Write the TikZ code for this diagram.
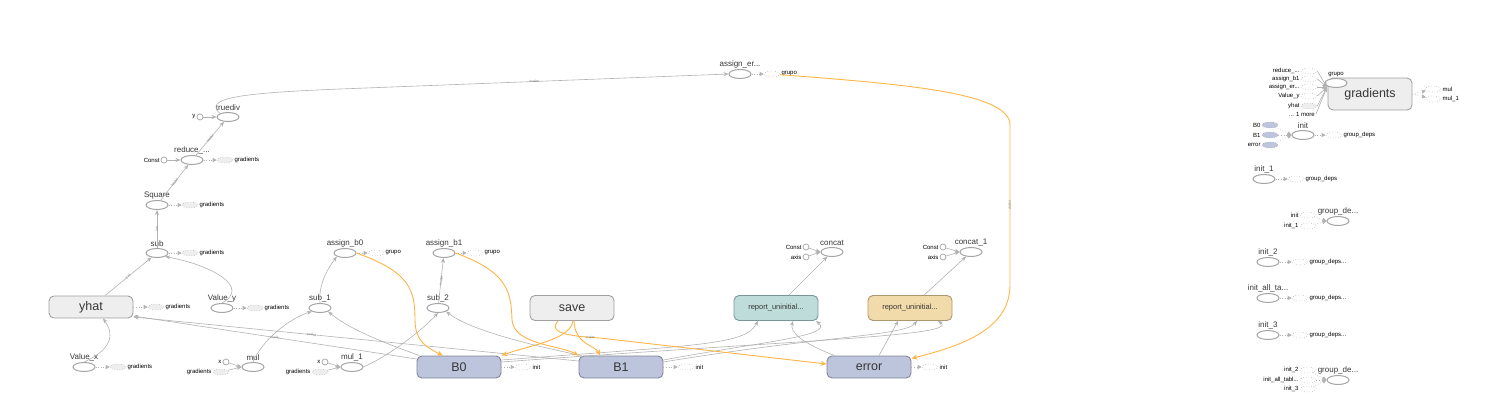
\documentclass[tikz,border=0pt]{standalone}
\usepackage{fontspec}
\setmainfont{Liberation Sans}
\usetikzlibrary{shapes, arrows.meta, positioning, calc}
\definecolor{edgegray}{RGB}{178,178,178}
\definecolor{opline}{RGB}{165,165,165}
\definecolor{metafill}{RGB}{238,238,238}
\definecolor{metaline}{RGB}{160,160,160}
\definecolor{varfill}{RGB}{189,197,221}
\definecolor{varline}{RGB}{128,134,152}
\definecolor{tealfill}{RGB}{190,221,218}
\definecolor{tealline}{RGB}{120,152,150}
\definecolor{tanfill}{RGB}{242,219,170}
\definecolor{tanline}{RGB}{172,152,112}
\definecolor{reforange}{RGB}{255,180,70}
\definecolor{txtgray}{RGB}{55,55,55}

\tikzset{
  op/.style={ellipse, draw=opline, line width=1pt, fill=white, minimum width=22pt, minimum height=9pt, inner sep=0pt},
  cst/.style={circle, draw=opline, line width=0.7pt, fill=white, minimum size=6pt, inner sep=0pt},
  stub/.style={ellipse, draw=opline!80, dotted, line width=0.6pt, minimum width=16pt, minimum height=6pt, inner sep=0pt},
  gstub/.style={stub, fill=metafill},
  vstub/.style={stub, fill=varfill, draw=varline!70},
  meta/.style={rectangle, rounded corners=5pt, draw=metaline, fill=metafill, line width=0.9pt, minimum width=84pt, minimum height=22pt, inner sep=0pt, text=txtgray, font=\fontsize{12.5}{12.5}\selectfont},
  lbl/.style={font=\fontsize{8}{8}\selectfont, text=txtgray, inner sep=1pt},
  slbl/.style={font=\fontsize{6}{6}\selectfont, text=black, inner sep=1pt},
  elbl/.style={font=\fontsize{3.5}{3.5}\selectfont, text=gray, sloped, inner sep=0.5pt},
  edge/.style={draw=edgegray, line width=0.6pt, -{Stealth[length=5pt, width=4pt]}},
  ref/.style={draw=reforange, line width=0.9pt, -{Stealth[length=6pt, width=5pt]}},
  ctl/.style={draw=edgegray, dotted, line width=0.6pt, -{Triangle[length=4pt, width=4pt]}}
}

\begin{document}
\begin{tikzpicture}[x=1pt, y=-1pt]
\useasboundingbox (0,0) rectangle (1490,418);

% loss chain
\node[op, label={[lbl]above:truediv}] (truediv) at (228,117) {};
\node[cst, label={[slbl]left:y}] (yin) at (200,117) {};
\node[op, label={[lbl]above:reduce\_...}] (reduce) at (192,160) {};
\node[cst, label={[slbl]left:Const}] (rconst) at (164,160) {};
\node[gstub, label={[slbl]right:gradients}] (reduceg) at (225,160) {};
\node[op, label={[lbl]above:Square}] (square) at (157,205) {};
\node[gstub, label={[slbl]right:gradients}] (squareg) at (190,205) {};
\node[op, label={[lbl]above:sub}] (sub) at (157,253) {};
\node[gstub, label={[slbl]right:gradients}] (subg) at (190,253) {};
\node[meta] (yhat) at (91,307) {yhat};
\node[gstub, label={[slbl]right:gradients}] (yhatg) at (156,307) {};
\node[op, label={[lbl]above:Value\_y}] (valy) at (222,308) {};
\node[gstub, label={[slbl]right:gradients}] (valyg) at (255,308) {};
\node[op, label={[lbl]above:Value\_x}] (valx) at (84,367) {};
\node[gstub, label={[slbl]right:gradients}] (valxg) at (118,367) {};

% updates
\node[op, label={[lbl]above:assign\_b0}] (asb0) at (345,253) {};
\node[stub, label={[slbl]right:grupo}] (asb0g) at (376,253) {};
\node[op, label={[lbl]above:assign\_b1}] (asb1) at (444,253) {};
\node[stub, label={[slbl]right:grupo}] (asb1g) at (475,253) {};
\node[op, label={[lbl]above:sub\_1}] (sub1) at (320,308) {};
\node[op, label={[lbl]above:sub\_2}] (sub2) at (438,308) {};
\node[op, label={[lbl]above:mul}] (mul) at (253,367) {};
\node[cst, label={[slbl]left:x}] (mulx) at (226,362) {};
\node[gstub, label={[slbl]left:gradients}] (mulg) at (221,372) {};
\node[op, label={[lbl]above:mul\_1}] (mul1) at (352,367) {};
\node[cst, label={[slbl]left:x}] (mul1x) at (325,362) {};
\node[gstub, label={[slbl]left:gradients}] (mul1g) at (320,372) {};

% variables
\node[meta, fill=varfill, draw=varline] (b0) at (459,367) {B0};
\node[stub, label={[slbl]right:init}] (b0i) at (523,367) {};
\node[meta, fill=varfill, draw=varline] (b1) at (621,367) {B1};
\node[stub, label={[slbl]right:init}] (b1i) at (686,367) {};
\node[meta, fill=varfill, draw=varline] (err) at (869,367) {error};
\node[stub, label={[slbl]right:init}] (erri) at (930,367) {};
\node[meta, minimum height=25pt] (save) at (572,308) {save};
\node[meta, minimum height=25pt, fill=tealfill, draw=tealline, font=\fontsize{7.5}{7.5}\selectfont] (repa) at (776,308) {report\_uninitial...};
\node[meta, minimum height=25pt, fill=tanfill, draw=tanline, font=\fontsize{7.5}{7.5}\selectfont] (repb) at (910,308) {report\_uninitial...};
\node[op, label={[lbl]above:concat}] (concat) at (832,252) {};
\node[cst, label={[slbl]left:Const}] (cca) at (806,247) {};
\node[cst, label={[slbl]left:axis}] (ccb) at (806,257) {};
\node[op, label={[lbl]above:concat\_1}] (concata) at (971,252) {};
\node[cst, label={[slbl]left:Const}] (cda) at (943,247) {};
\node[cst, label={[slbl]left:axis}] (cdb) at (943,257) {};
\node[op, label={[lbl]above:assign\_er...}] (aserr) at (740,74) {};
\node[stub, label={[slbl]right:grupo}] (aserrg) at (772,74) {};

% data edges
\draw[edge] (yin) -- (truediv);
\draw[edge] (rconst) -- (reduce);
\draw[edge] (reduce) -- node[elbl]{scalar} (truediv);
\draw[edge] (square) -- node[elbl]{scalar} (reduce);
\draw[edge] (sub) -- node[elbl]{2x1} (square);
\draw[edge] (yhat) -- node[elbl]{2x1} (sub);
\draw[edge] (valy.north) .. controls (250,288) and (215,266) .. (sub.south east);
\draw[edge] (valx.north) .. controls (115,348) and (113,332) .. ($(yhat.south)+(12,0)$);
\draw[edge] (truediv.north west) .. controls (203,98) and (240,93) .. (340,89) -- node[elbl]{scalar} (aserr.west);
\draw[edge] (sub1.north) .. controls (318,285) and (328,268) .. (asb0.south west);
\draw[edge] (sub2) -- node[elbl]{scalar} (asb1);
\draw[edge] (mul.north) .. controls (262,340) and (290,318) .. (sub1.south west);
\draw[edge] (mul1.east) .. controls (390,355) and (420,332) .. (sub2.south);
\draw[edge] ($(b0.north west)+(3,0)$) .. controls (390,345) and (350,330) .. (sub1.south east);
\draw[edge] ($(b1.north west)+(3,0)$) .. controls (530,345) and (470,330) .. (sub2.south east);
\draw[edge] ($(b0.west)+(0,-8)$) -- node[elbl]{scalar} ($(yhat.east)+(0,9)$);
\draw[edge] ($(b1.west)+(0,-6)$) -- node[elbl, pos=.6]{scalar} ($(yhat.east)+(0,10)$);
\draw[edge] ($(b0.east)+(0,-7)$) .. controls (700,345) and (745,345) .. ($(repa.south)+(-18,0)$);
\draw[edge] ($(b0.east)+(0,-5)$) .. controls (800,340) and (960,336) .. ($(repb.south)+(28,0)$);
\draw[edge] ($(b1.east)+(0,-7)$) .. controls (760,342) and (835,336) .. ($(repa.south)+(40,0)$);
\draw[edge] ($(b1.east)+(0,-5)$) .. controls (820,336) and (905,336) .. ($(repb.south)+(7,0)$);
\draw[edge] ($(err.north west)+(8,0)$) .. controls (800,342) and (790,332) .. ($(repa.south)+(17,0)$);
\draw[edge] ($(err.north)+(10,0)$) -- ($(repb.south)+(-12,0)$);
\draw[edge] (repa) -- (concat);
\draw[edge] (repb) -- (concata);
\draw[edge] (cca) -- (concat.west);
\draw[edge] (ccb) -- (concat.west);
\draw[edge] (cda) -- (concata.west);
\draw[edge] (cdb) -- (concata.west);
\draw[edge] (mulx) -- (mul.west);
\draw[edge] (mulg) -- (mul.west);
\draw[edge] (mul1x) -- (mul1.west);
\draw[edge] (mul1g) -- (mul1.west);

% control edges to stubs
\foreach \a/\b in {reduce/reduceg, square/squareg, sub/subg, yhat/yhatg, valy/valyg, valx/valxg, asb0/asb0g, asb1/asb1g, b0/b0i, b1/b1i, err/erri, aserr/aserrg}
  \draw[ctl] (\a) -- (\b);

% reference edges
\draw[ref] (asb0.east) .. controls (410,272) and (415,290) .. (415,320) .. controls (415,342) and (428,348) .. ($(b0.north)+(-16,0)$);
\draw[ref] (asb1.east) .. controls (508,272) and (511,292) .. (512,320) .. controls (514,345) and (560,345) .. ($(b1.north west)+(0,0)$);
\draw[ref] ($(save.south)+(1,0)$) .. controls (570,340) and (530,345) .. ($(b0.north east)+(0,0)$);
\draw[ref] ($(save.south)+(2,0)$) .. controls (575,345) and (595,345) .. ($(b1.north)+(-21,0)$);
\draw[ref] ($(save.south)+(-14,0)$) .. controls (548,332) and (565,336) .. node[elbl, pos=.9]{scalar} (600,338) -- ($(err.west)+(0,-3)$);
\draw[ref] (aserrg) .. controls (900,84) and (1010,92) .. (1010,125) -- node[elbl]{scalar} (1010,285) .. controls (1010,330) and (960,346) .. ($(err.north east)+(0,3)$);

% gradients group
\node[meta, minimum height=32pt] (grads) at (1370,94) {gradients};
\node[op, label={[slbl]above:grupo}] (grupo) at (1336,83) {};
\coordinate (gin) at (1327,87);
\node[stub, label={[slbl]left:reduce\_...}] (gia) at (1309,71) {};
\node[stub, label={[slbl]left:assign\_b1}] (gib) at (1309,79) {};
\node[stub, label={[slbl]left:assign\_er...}] (gic) at (1309,87) {};
\node[stub, label={[slbl]left:Value\_y}] (gid) at (1309,96) {};
\node[gstub, label={[slbl]left:yhat}] (gie) at (1309,106) {};
\node[slbl, anchor=east] (gif) at (1316,114) {... 1 more};
\foreach \s in {gia, gib, gic, gid, gie}
  \draw[edge] (\s.east) -- (gin);
\draw[edge] (gif.east) -- (gin);
\node[stub, label={[slbl]right:mul}] (gmul) at (1433,89) {};
\node[stub, label={[slbl]right:mul\_1}] (gmula) at (1433,99) {};
\draw[ctl] (grads.east) -- (gmul);
\draw[ctl] (grads.east) -- (gmula);

% init column
\node[op, label={[lbl]above:init}] (init) at (1303,135) {};
\node[vstub, label={[slbl]left:B0}] (ib0) at (1270,125) {};
\node[vstub, label={[slbl]left:B1}] (ib1) at (1270,135) {};
\node[vstub, label={[slbl]left:error}] (iberr) at (1270,145) {};
\node[stub, label={[slbl]right:group\_deps}] (initg) at (1334,135) {};
\foreach \s in {ib0, ib1, iberr}
  \draw[ctl] (\s) -- (init.west);
\draw[ctl] (init) -- (initg);

\node[op, label={[lbl]above:init\_1}] (inita) at (1264,179) {};
\node[stub, label={[slbl]right:group\_deps}] (initag) at (1296,179) {};
\draw[ctl] (inita) -- (initag);

\node[op, label={[lbl]above:group\_de...}] (gdeps) at (1338,221) {};
\node[stub, label={[slbl]left:init}] (gdi) at (1308,215) {};
\node[stub, label={[slbl]left:init\_1}] (gdia) at (1308,226) {};
\draw[ctl] (gdi) -- (gdeps.west);
\draw[ctl] (gdia) -- (gdeps.west);

\node[op, label={[lbl]above:init\_2}] (initb) at (1268,262) {};
\node[stub, label={[slbl]right:group\_deps...}] (initbg) at (1300,262) {};
\node[op, label={[lbl]above:init\_all\_ta...}] (initall) at (1268,298) {};
\node[stub, label={[slbl]right:group\_deps...}] (initallg) at (1300,298) {};
\node[op, label={[lbl]above:init\_3}] (initc) at (1268,335) {};
\node[stub, label={[slbl]right:group\_deps...}] (initcg) at (1300,335) {};
\draw[ctl] (initb) -- (initbg);
\draw[ctl] (initall) -- (initallg);
\draw[ctl] (initc) -- (initcg);

\node[op, label={[lbl]above:group\_de...}] (gdepsa) at (1338,380) {};
\node[stub, label={[slbl]left:init\_2}] (gdb) at (1308,370) {};
\node[stub, label={[slbl]left:init\_all\_tabl...}] (gdall) at (1308,380) {};
\node[stub, label={[slbl]left:init\_3}] (gdc) at (1308,389) {};
\foreach \s in {gdb, gdall, gdc}
  \draw[ctl] (\s) -- (gdepsa.west);
\end{tikzpicture}
\end{document}
